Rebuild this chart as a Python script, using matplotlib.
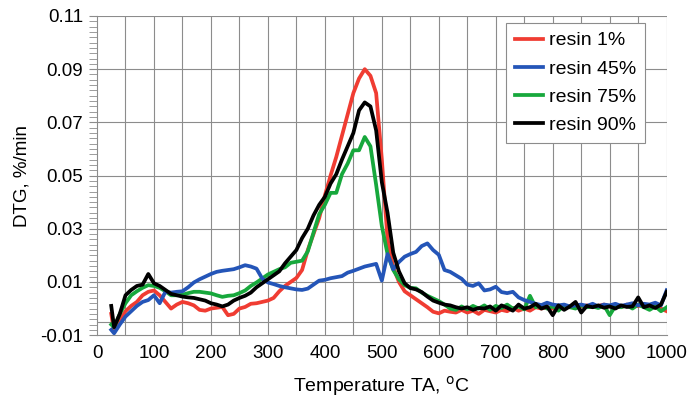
import numpy as np
import matplotlib
matplotlib.use("Agg")
import matplotlib.pyplot as plt
from matplotlib.ticker import MultipleLocator, FormatStrFormatter

plt.rcParams['font.family'] = ['Liberation Sans', 'DejaVu Sans']

temperature = [25] + list(range(30, 1001, 10))

resin_1 = [-0.002, -0.0085, -0.0045, -0.001, 0.001, 0.0025, 0.005, 0.0063, 0.0068, 0.005,
           0.0025, 0.0, 0.0015, 0.0025, 0.002, 0.0012, -0.0005, -0.0008, 0.0, 0.0003,
           0.0006, -0.0025, -0.002, 0.0, 0.0006, 0.0018, 0.002, 0.0025, 0.003, 0.004,
           0.0065, 0.0085, 0.010, 0.0115, 0.0145, 0.022, 0.028, 0.034, 0.0425, 0.050,
           0.057, 0.065, 0.073, 0.081, 0.0865, 0.090, 0.0875, 0.081, 0.056, 0.026,
           0.0155, 0.010, 0.0065, 0.005, 0.0035, 0.002, 0.0005, -0.0012, -0.0018, -0.0008,
           -0.0012, -0.0015, -0.0005, -0.0015, -0.0008, -0.002, -0.0005, -0.001, -0.0015, -0.0005,
           -0.001, 0.0002, -0.0008, 0.0, -0.0008, 0.0005, 0.0, 0.0005, 0.0, 0.0008,
           0.0012, 0.0005, 0.0015, 0.0008, 0.0012, 0.0005, 0.001, 0.0015, 0.0008, 0.0012,
           0.0005, 0.0015, 0.0008, 0.001, 0.0012, 0.0005, 0.0012, 0.0, -0.001]

resin_45 = [-0.008, -0.0093, -0.006, -0.003, -0.001, 0.001, 0.0025, 0.0032, 0.005, 0.002,
            0.0063, 0.006, 0.0063, 0.0065, 0.008, 0.0098, 0.011, 0.012, 0.013, 0.0138,
            0.0142, 0.0145, 0.0148, 0.0155, 0.0163, 0.0158, 0.015, 0.0113, 0.0098, 0.0092,
            0.0085, 0.008, 0.0076, 0.0072, 0.007, 0.0075, 0.009, 0.0105, 0.0108, 0.0114,
            0.0118, 0.0122, 0.0135, 0.0142, 0.015, 0.0158, 0.0163, 0.0168, 0.0105, 0.0205,
            0.0148, 0.0175, 0.0195, 0.0205, 0.0213, 0.0235, 0.0245, 0.022, 0.0202, 0.0145,
            0.0138, 0.0125, 0.0112, 0.009, 0.0085, 0.0095, 0.0068, 0.0072, 0.0082, 0.0062,
            0.0058, 0.0063, 0.0042, 0.0032, 0.0025, 0.0018, 0.0013, 0.0022, 0.0015, 0.0012,
            0.0015, 0.0008, 0.0012, 0.0015, 0.001, 0.0018, 0.0008, 0.0015, 0.0012, 0.0018,
            0.001, 0.0015, 0.002, 0.0012, 0.0018, 0.0015, 0.0022, 0.0012, 0.0069]

resin_75 = [-0.006, -0.007, -0.002, 0.002, 0.005, 0.0065, 0.0078, 0.0088, 0.0085, 0.0078,
            0.0065, 0.005, 0.005, 0.0052, 0.0058, 0.0063, 0.0063, 0.006, 0.0057, 0.005,
            0.0044, 0.0048, 0.005, 0.0058, 0.0068, 0.0085, 0.0098, 0.0113, 0.0128, 0.0138,
            0.0148, 0.0155, 0.0172, 0.0176, 0.018, 0.0215, 0.0285, 0.0355, 0.039, 0.0435,
            0.0435, 0.0505, 0.0545, 0.0595, 0.0595, 0.0645, 0.061, 0.0465, 0.031, 0.0205,
            0.0145, 0.011, 0.0088, 0.0078, 0.0076, 0.006, 0.0048, 0.0038, 0.0028, 0.0015,
            0.0, -0.0005, 0.0008, -0.0003, 0.001, 0.0, 0.0012, -0.0005, 0.001, 0.0002,
            0.0015, 0.0, 0.0008, -0.0003, 0.0048, 0.0005, 0.0012, 0.0, 0.0008, -0.0008,
            0.0012, 0.0005, 0.0, 0.0012, 0.0005, 0.0008, 0.0002, 0.0012, -0.0025, 0.001,
            0.0005, 0.0012, 0.0, 0.0015, 0.0005, -0.0005, 0.0008, -0.001, 0.0005]

resin_90 = [0.001, -0.007, -0.002, 0.005, 0.007, 0.0085, 0.009, 0.013, 0.0095, 0.0085,
            0.007, 0.0055, 0.005, 0.0045, 0.0042, 0.004, 0.0035, 0.003, 0.002, 0.0015,
            0.0008, 0.0015, 0.003, 0.004, 0.0048, 0.006, 0.008, 0.0095, 0.011, 0.0125,
            0.014, 0.017, 0.0195, 0.022, 0.0265, 0.030, 0.035, 0.039, 0.042, 0.047,
            0.0505, 0.056, 0.061, 0.066, 0.0745, 0.0775, 0.076, 0.067, 0.0475, 0.036,
            0.021, 0.014, 0.0095, 0.0077, 0.0072, 0.0062, 0.0045, 0.003, 0.0022, 0.0015,
            0.0012, 0.0005, 0.0, 0.0005, -0.0005, 0.0002, 0.0, 0.0008, -0.0008, 0.0012,
            0.0003, -0.0008, 0.0015, 0.0, 0.0005, 0.0018, 0.0, 0.0008, -0.0025, 0.0012,
            -0.0005, 0.0008, 0.0025, -0.0015, 0.001, 0.0005, 0.0012, 0.0003, 0.0008, 0.0,
            0.0012, 0.0006, 0.0008, 0.0042, 0.0005, 0.0012, 0.0002, 0.0015, 0.0063]

series_labels = ["resin 1%", "resin 45%", "resin 75%", "resin 90%"]
y_ticks = [-0.01, 0.01, 0.03, 0.05, 0.07, 0.09, 0.11]
x_ticks = list(range(0, 1001, 100))

fig = plt.figure(figsize=(6.88, 3.99), dpi=100)
ax = fig.add_axes([0.141, 0.160, 0.828, 0.800])

grid_c = '#8c8c8c'
colors = {"resin 1%": '#f03c32', "resin 45%": '#2455b8', "resin 75%": '#17a83c', "resin 90%": '#000000'}
data = {"resin 1%": resin_1, "resin 45%": resin_45, "resin 75%": resin_75, "resin 90%": resin_90}
zorders = {"resin 1%": 3, "resin 45%": 5, "resin 75%": 4, "resin 90%": 6}

lines = {}
for lab in series_labels:
    lines[lab], = ax.plot(temperature, data[lab], color=colors[lab], lw=2.7,
                          zorder=zorders[lab], label=lab, solid_joinstyle='round')

ax.set_xlim(0, 1000)
ax.set_ylim(-0.01, 0.11)
ax.set_xticks(x_ticks)
ax.set_yticks(y_ticks)
ax.yaxis.set_major_formatter(FormatStrFormatter('%.2f'))
ax.xaxis.set_minor_locator(MultipleLocator(50))
ax.yaxis.set_minor_locator(MultipleLocator(0.002))

for xv in range(50, 1001, 50):
    ax.axvline(xv, color=grid_c, lw=0.8, zorder=1)
for yv in y_ticks[1:]:
    ax.axhline(yv, color=grid_c, lw=0.8, zorder=1)
ax.axhline(-0.005, color=grid_c, lw=0.8, zorder=1)

for s in ['top', 'right']:
    ax.spines[s].set_visible(False)
for s in ['left', 'bottom']:
    ax.spines[s].set_color(grid_c)
    ax.spines[s].set_linewidth(0.8)

ax.tick_params(axis='y', which='major', length=6, color=grid_c, width=0.8, labelsize=13.5, pad=4)
ax.tick_params(axis='y', which='minor', length=6, color=grid_c, width=0.6)
ax.tick_params(axis='x', which='both', length=0, labelsize=13.5, pad=7)

ax.set_xlabel("Temperature TA, $^{\\mathrm{o}}$C", fontsize=14, labelpad=9)
ax.set_ylabel("DTG, %/min", fontsize=13.5, labelpad=7)

leg = ax.legend(handles=[lines[l] for l in series_labels], loc='upper right',
                bbox_to_anchor=(0.962, 0.978), fontsize=14, frameon=True, fancybox=False,
                edgecolor=grid_c, framealpha=1, handlelength=1.45, labelspacing=0.55,
                borderpad=0.45, handletextpad=0.3, borderaxespad=0)
leg.get_frame().set_linewidth(0.8)
leg.set_zorder(10)

fig.savefig("out.png", dpi=100)
